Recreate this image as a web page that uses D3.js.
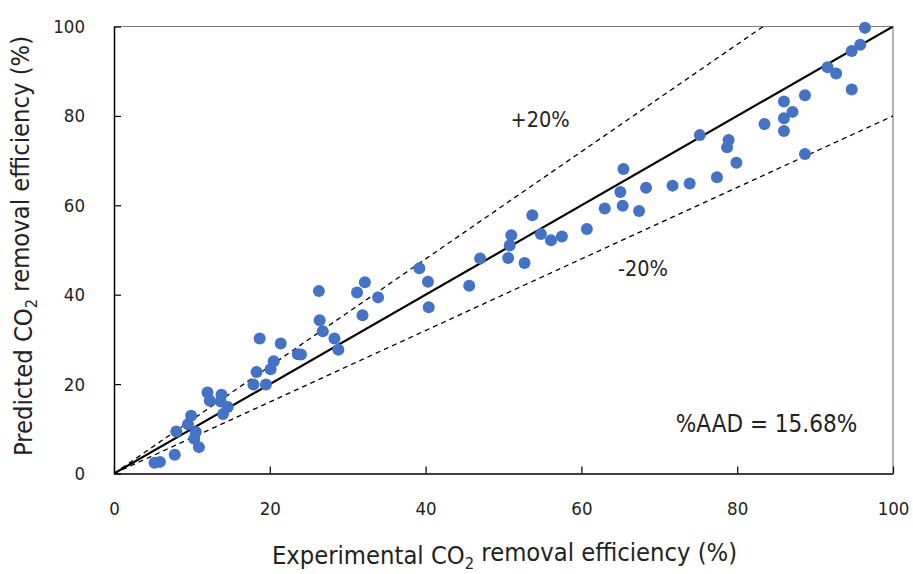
<!DOCTYPE html>
<html>
<head>
<meta charset="utf-8">
<script src="https://cdn.jsdelivr.net/npm/d3@7"></script>
<style>
  html, body { margin: 0; padding: 0; background: #fff; }
  svg text { font-family: "DejaVu Sans Condensed", "DejaVu Sans", sans-serif; font-stretch: condensed; fill: #222; }
</style>
</head>
<body>
<svg id="chart" width="913" height="574"></svg>
<script>
// Experimental vs predicted CO2 removal efficiency (%)
const experimental = [
  5.2, 5.9, 7.8, 8.0, 9.5, 9.9, 10.3, 10.5, 10.9, 12.0,
  12.3, 13.8, 13.7, 14.6, 14.0, 17.9, 19.5, 18.3, 18.7, 20.1,
  20.5, 21.4, 23.6, 24.0, 26.3, 26.4, 26.8, 28.3, 28.8, 31.2,
  32.2, 31.9, 33.9, 39.2, 40.3, 40.4, 45.6, 47.0, 50.6, 51.0,
  50.8, 52.7, 53.7, 54.8, 56.1, 57.5, 60.7, 63.0, 65.4, 65.0,
  65.3, 67.4, 68.3, 71.7, 73.9, 77.4, 75.2, 78.9, 78.7, 79.9,
  83.5, 86.0, 87.1, 86.0, 86.0, 88.7, 88.7, 91.6, 92.7, 94.7,
  95.8, 96.4, 94.7
];
const predicted = [
  2.4, 2.6, 4.2, 9.4, 11.0, 12.9, 7.8, 9.3, 5.9, 18.1,
  16.3, 17.6, 16.1, 14.9, 13.3, 19.9, 19.9, 22.7, 30.2, 23.3,
  25.1, 29.1, 26.7, 26.6, 40.8, 34.3, 31.8, 30.2, 27.7, 40.5,
  42.8, 35.4, 39.4, 45.9, 42.9, 37.2, 42.0, 48.1, 48.2, 53.3,
  51.0, 47.1, 57.8, 53.6, 52.2, 53.0, 54.7, 59.3, 68.1, 63.0,
  59.9, 58.7, 63.9, 64.4, 64.9, 66.3, 75.7, 74.6, 73.0, 69.5,
  78.2, 83.2, 80.9, 79.5, 76.6, 84.6, 71.5, 90.9, 89.5, 94.5,
  95.9, 99.7, 85.9
];
const xTicks = [0, 20, 40, 60, 80, 100];
const yTicks = [0, 20, 40, 60, 80, 100];
// Parity line and ±20% deviation bands (slope of predicted vs experimental)
const bandSlopes = [1.2, 1.0, 0.8];
const bandLabels = ["+20%", "-20%"];
const aadLabel = "%AAD = 15.68%";

const svg = d3.select("#chart");
const W = 913, H = 574;
const margin = { left: 114, right: 20, top: 26.5, bottom: 100.5 };
const iw = W - margin.left - margin.right;
const ih = H - margin.top - margin.bottom;

const x = d3.scaleLinear().domain([0, 100]).range([0, iw]);
const y = d3.scaleLinear().domain([0, 100]).range([ih, 0]);

const g = svg.append("g").attr("transform", `translate(${margin.left},${margin.top})`);

svg.append("defs").append("clipPath").attr("id", "plotClip")
  .append("rect").attr("width", iw).attr("height", ih);

// frame (top and right)
g.append("path")
  .attr("d", `M0,0H${iw}V${ih}`)
  .attr("fill", "none").attr("stroke", "#7f7f7f").attr("stroke-width", 1.2);

// reference lines
const lineGen = d3.line().x(d => x(d[0])).y(d => y(d[1]));
const refG = g.append("g").attr("clip-path", "url(#plotClip)");
bandSlopes.forEach(s => {
  const xEnd = Math.min(100, 100 / s);
  refG.append("path")
    .datum([[0, 0], [xEnd, xEnd * s]])
    .attr("d", lineGen)
    .attr("fill", "none")
    .attr("stroke", "#000")
    .attr("stroke-width", s === 1 ? 2.2 : 1.3)
    .attr("stroke-dasharray", s === 1 ? null : "5,4");
});

// axes with inward ticks
const xAxis = d3.axisBottom(x).tickValues(xTicks).tickSizeInner(-7).tickSizeOuter(0).tickPadding(28.5);
const yAxis = d3.axisLeft(y).tickValues(yTicks).tickSizeInner(-7).tickSizeOuter(0).tickPadding(29);

const gx = g.append("g").attr("transform", `translate(0,${ih})`).call(xAxis);
const gy = g.append("g").call(yAxis);
[gx, gy].forEach(a => {
  a.select(".domain").attr("stroke", "#000").attr("stroke-width", 1.5);
  a.selectAll(".tick line").attr("stroke", "#000").attr("stroke-width", 1.2);
  a.selectAll(".tick text").attr("font-size", 18.5).attr("fill", "#222")
    .style("font-family", '"DejaVu Sans Condensed", "DejaVu Sans", sans-serif');
});

// data points
const pts = experimental.map((v, i) => [v, predicted[i]]);
g.append("g").selectAll("circle").data(pts).join("circle")
  .attr("cx", d => x(d[0])).attr("cy", d => y(d[1]))
  .attr("r", 6).attr("fill", "#4472C4");

// annotations
g.append("text").attr("x", x(50.9)).attr("y", y(77.5))
  .attr("font-size", 21.5).text(bandLabels[0]);
g.append("text").attr("x", x(64.7)).attr("y", y(44.2))
  .attr("font-size", 21.5).text(bandLabels[1]);
g.append("text").attr("x", x(95.4)).attr("y", y(9.3))
  .attr("text-anchor", "end").attr("font-size", 24).text(aadLabel);

// axis titles with subscript
function title(sel, before, after) {
  sel.append("tspan").text(before + "CO");
  sel.append("tspan").attr("font-size", "65%").attr("dy", "0.3em").text("2");
  sel.append("tspan").attr("dy", "-0.3em").text(" " + after);
}
const xt = svg.append("text").attr("x", 504.5).attr("y", 564)
  .attr("text-anchor", "middle").attr("font-size", 25.3);
title(xt, "Experimental ", "removal efficiency (%)");

const yt = svg.append("text")
  .attr("transform", `translate(32,246) rotate(-90)`)
  .attr("text-anchor", "middle").attr("font-size", 25.3);
title(yt, "Predicted ", "removal efficiency (%)");
</script>
</body>
</html>
